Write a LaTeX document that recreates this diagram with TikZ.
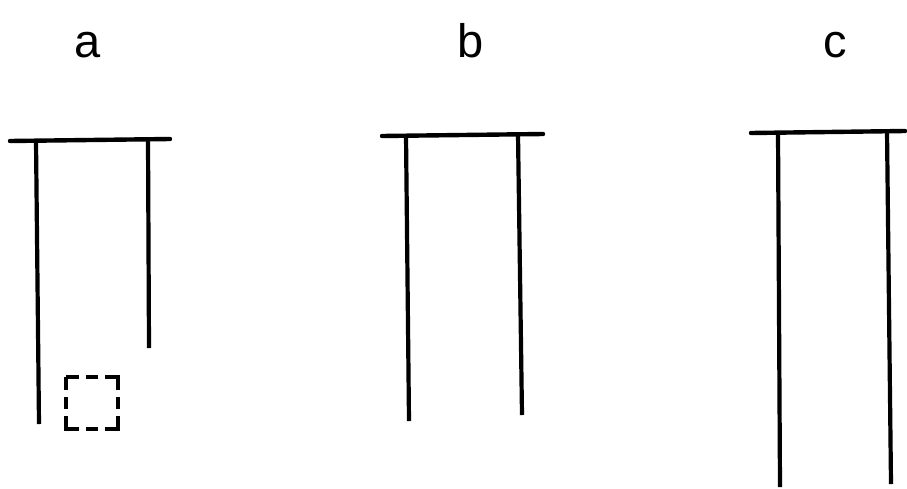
\documentclass[tikz,border=0pt]{standalone}
\usepackage{fontspec}
\setmainfont{Liberation Sans}
\usetikzlibrary{positioning}

\begin{document}
\begin{tikzpicture}[
        x=1pt, y=-1pt,
        bar/.style={line width=4.4pt, line cap=round},
        wire/.style={line width=4.2pt},
        tag/.style={font=\fontsize{47}{50}\selectfont, anchor=base, inner sep=0pt},
        probe/.style={line width=3.8pt, dash pattern=on 12pt off 7pt on 26pt off 7pt, dash phase=32pt}
    ]
        \useasboundingbox (0,0) rectangle (907,488);

        % labels
        \node[tag] (la) at (88,57) {a};
        \node[tag] (lb) at (471,57) {b};
        \node[tag] (lc) at (835,57) {c};

        % panel a
        \coordinate (a0) at (10,141);
        \coordinate (a1) at (170,139);
        \coordinate (aLt) at (36,141);
        \coordinate (aLb) at (39,424);
        \coordinate (aRt) at (148,140);
        \coordinate (aRb) at (149,348);
        \coordinate (box0) at (66,377);
        \coordinate (box1) at (118,429);
        \draw[bar] (a0) -- (a1);
        \draw[wire] (aLt) -- (aLb);
        \draw[wire] (aRt) -- (aRb);
        \draw[probe] (box0) rectangle (box1);

        % panel b
        \coordinate (b0) at (382,136);
        \coordinate (b1) at (543,134);
        \coordinate (bLt) at (406,135);
        \coordinate (bLb) at (409,421);
        \coordinate (bRt) at (518,134);
        \coordinate (bRb) at (522,415);
        \draw[bar] (b0) -- (b1);
        \draw[wire] (bLt) -- (bLb);
        \draw[wire] (bRt) -- (bRb);

        % panel c
        \coordinate (c0) at (751,133);
        \coordinate (c1) at (905,131);
        \coordinate (cLt) at (778,132);
        \coordinate (cLb) at (780,487);
        \coordinate (cRt) at (887,131);
        \coordinate (cRb) at (891,484);
        \draw[bar] (c0) -- (c1);
        \draw[wire] (cLt) -- (cLb);
        \draw[wire] (cRt) -- (cRb);
    \end{tikzpicture}
\end{document}
